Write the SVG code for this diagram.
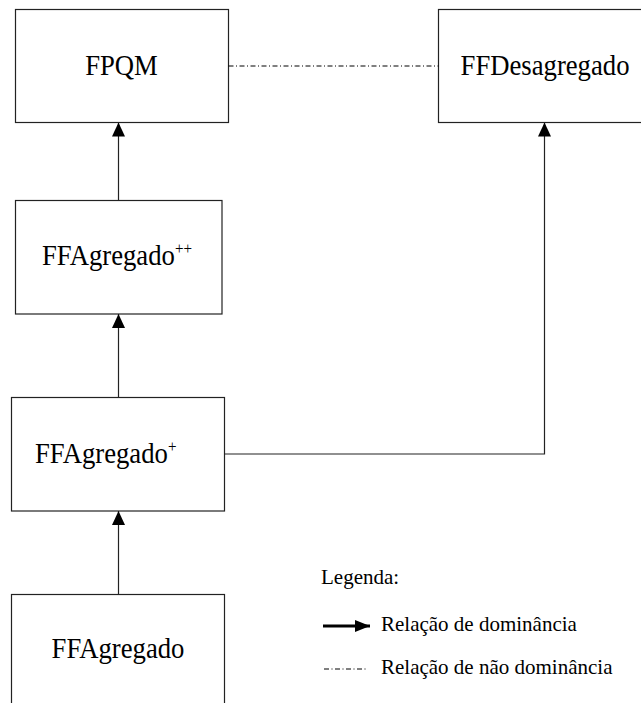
<svg xmlns="http://www.w3.org/2000/svg" width="641" height="703" viewBox="0 0 641 703">
<style>
.box{fill:#fff;stroke:#222;stroke-width:1.2}
.t{font-family:"Times New Roman",Times,"Liberation Serif","DejaVu Serif","Noto Serif",serif;fill:#000}
.lbl{font-size:30px}
.sup{font-size:17px}
.leg{font-size:21px}
.con{fill:none;stroke:#222;stroke-width:1.2}
.dd{fill:none;stroke:#000;stroke-width:1;stroke-dasharray:5 2.5 1 2.5}
</style>
<defs>
<marker id="ah" markerUnits="userSpaceOnUse" markerWidth="14" markerHeight="14" refX="14" refY="6.5" orient="auto">
<path d="M0,0 L14,6.5 L0,13 z" fill="#000"/>
</marker>
<marker id="ahl" markerUnits="userSpaceOnUse" markerWidth="15" markerHeight="13" refX="15" refY="6" orient="auto">
<path d="M0,0 L15,6 L0,12 z" fill="#000"/>
</marker>
</defs>
<g id="n-fpqm">
<rect class="box" x="15.5" y="9.5" width="213" height="113"/>
<text class="t lbl" text-anchor="middle" transform="translate(121.5,75) scale(0.89,1)">FPQM</text>
</g>
<g id="n-ffdesagregado">
<rect class="box" x="438.5" y="9.5" width="214" height="113"/>
<text class="t lbl" text-anchor="middle" transform="translate(545,75) scale(0.89,1)">FFDesagregado</text>
</g>
<g id="n-ffagregado-pp">
<rect class="box" x="15.5" y="200.5" width="206.5" height="113.5"/>
<text class="t lbl" transform="translate(42,265) scale(0.89,1)">FFAgregado<tspan class="sup" dy="-11">++</tspan></text>
</g>
<g id="n-ffagregado-p">
<rect class="box" x="11.5" y="397.5" width="213" height="113.5"/>
<text class="t lbl" transform="translate(35,463) scale(0.89,1)">FFAgregado<tspan class="sup" dy="-11">+</tspan></text>
</g>
<g id="n-ffagregado">
<rect class="box" x="11.5" y="594.5" width="213" height="120"/>
<text class="t lbl" text-anchor="middle" transform="translate(118,658) scale(0.89,1)">FFAgregado</text>
</g>
<g id="connectors">
<line class="dd" x1="228.5" y1="66" x2="438.5" y2="66"/>
<line class="con" x1="118.5" y1="200.5" x2="118.5" y2="122.5" marker-end="url(#ah)"/>
<line class="con" x1="118.5" y1="397.5" x2="118.5" y2="314" marker-end="url(#ah)"/>
<line class="con" x1="118.5" y1="594.5" x2="118.5" y2="511" marker-end="url(#ah)"/>
<polyline class="con" points="224.5,454 544.5,454 544.5,122.5" marker-end="url(#ah)"/>
</g>
<g id="legend">
<text class="t leg" x="321" y="584">Legenda:</text>
<line x1="323" y1="626" x2="370" y2="626" stroke="#000" stroke-width="3" marker-end="url(#ahl)"/>
<text class="t leg" x="381" y="631">Relação de dominância</text>
<line class="dd" x1="324" y1="669" x2="368" y2="669"/>
<text class="t leg" x="381" y="674">Relação de não dominância</text>
</g>
</svg>
